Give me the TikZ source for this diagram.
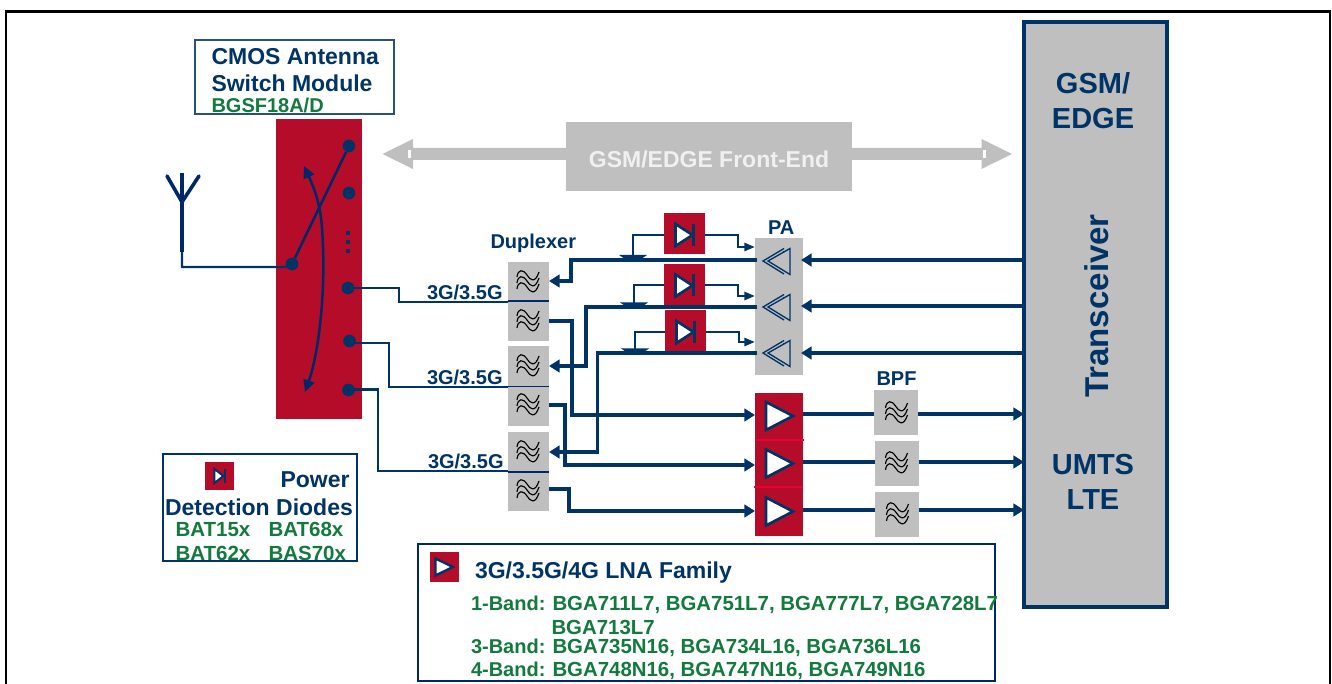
\documentclass[tikz,border=0pt]{standalone}
\usepackage{fontspec}
\setmainfont{Liberation Sans}
\usetikzlibrary{arrows.meta}
\definecolor{navy}{RGB}{0,51,102}
\definecolor{darkblue}{RGB}{0,40,105}
\definecolor{grn}{RGB}{18,122,60}
\definecolor{chipred}{RGB}{181,13,41}
\definecolor{pinkline}{RGB}{232,0,56}
\definecolor{panel}{RGB}{191,191,191}
\def\pxu{0.75pt}
\newcommand{\fpx}[1]{\pgfmathsetmacro\fsz{#1*0.75}\fontsize{\fsz}{\fsz}\bfseries\selectfont}
\newcommand{\bx}[6]{\node[#6,inner sep=0pt,outer sep=0pt,minimum width={(#4-#2)*\pxu},minimum height={(#5-#3)*\pxu}] (#1) at ({(#2+#4)/2},{(#3+#5)/2}) {};}
\tikzset{
  x=0.75pt,y=-0.75pt,
  redbox/.style={fill=chipred},
  graybox/.style={fill=panel},
  framebox/.style={draw=navy,line width=1.5pt,fill=white},
  wire/.style={draw=navy,line width=2.6pt,line join=miter},
  thinwire/.style={draw=navy,line width=2.1pt},
  bigtip/.style={-{Triangle[length=8pt,width=9.5pt]}},
  smalltip/.style={-{Triangle[length=8pt,width=6pt]}},
  tn/.style={inner sep=0pt,outer sep=0pt,anchor=base west,text=navy},
  tg/.style={inner sep=0pt,outer sep=0pt,anchor=base west,text=grn},
  swdot/.style={circle,fill=navy,inner sep=0pt,minimum size=9.5pt},
  filterwave/.pic={
    \foreach \d in {-6,0,6}{
      \draw[black,line width=0.85pt] (-11,\d+1) .. controls (-10,\d-7) and (-5,\d-7) .. (-1,\d-1) .. controls (2,\d+4) and (7,\d+8) .. (11,\d-4);
    }
  },
  paamp/.pic={
    \draw[navy,line width=1pt] (21,-12.5) -- (0,0) -- (21,13);
    \draw[navy,line width=1pt] (27,-12.5) -- (5,-0) -- (27,13.5) -- cycle;
    \draw[navy,line width=1pt] (21,-10) -- (21,-9.5);
  },
  lnaamp/.pic={
    \draw[navy,line width=2pt,fill=white] (0,-14) -- (27,0) -- (0,14) -- cycle;
  },
  diodesym/.pic={
    \draw[navy,line width=2pt,fill=white] (-9,-11) -- (8,0) -- (-9,11) -- cycle;
    \draw[navy,line width=2pt] (9,-11) -- (9,11);
  },
  coupler/.pic={
    \fill[navy] (-14,-1) -- (14,-1) -- (8,3) -- (-8,3) -- cycle;
  },
}
\begin{document}
\begin{tikzpicture}
\useasboundingbox (0,0) rectangle (1332,684);
\draw[black,line width=1.9pt] (6,684) -- (6,11.5) -- (1330,11.5) -- (1330,684);

% Front-end bar
\bx{fe}{566}{122}{852}{191.5}{graybox}
\fill[panel] (382.5,154) -- (413,139) -- (413,148) -- (566,148) -- (566,160) -- (413,160) -- (413,169) -- cycle;
\fill[panel] (1012,154) -- (981.5,139) -- (981.5,148) -- (852,148) -- (852,160) -- (981.5,160) -- (981.5,169) -- cycle;
\fill[white] (408,150) rectangle (411,158);
\fill[white] (983,150) rectangle (986,158);
\node[inner sep=0pt,anchor=base,text=white!94!black,font=\fpx{23}] (fetext) at (709,168) {GSM/EDGE Front-End};

% Transceiver
\bx{tx}{1024}{22}{1167}{607}{fill=panel,draw=navy,line width=2.6pt}
\node[inner sep=0pt,anchor=base,text=navy,font=\fpx{29}] (txa) at (1093,94) {GSM/};
\node[inner sep=0pt,anchor=base,text=navy,font=\fpx{29}] (txb) at (1093,128.5) {EDGE};
\node[inner sep=0pt,rotate=90,text=navy,font=\fpx{33}] (txc) at (1097,306) {Transceiver};
\node[inner sep=0pt,anchor=base,text=navy,font=\fpx{29}] (txd) at (1093,474.5) {UMTS};
\node[inner sep=0pt,anchor=base,text=navy,font=\fpx{29}] (txe) at (1093,509.5) {LTE};

% Switch module
\node[framebox,draw=navy!85!white,inner sep=0pt,minimum width=149pt,minimum height=55.5pt] (cmos) at (294.5,77) {};
\node[tn,font=\fpx{23}] (cmosa) at (211.5,65) {CMOS Antenna};
\node[tn,font=\fpx{23}] (cmosb) at (211.5,92) {Switch Module};
\node[tg,font=\fpx{20}] (cmosc) at (211.5,113) {BGSF18A/D};
\bx{sw}{276}{119}{362}{419}{redbox}
\node[swdot] (ant) at (292,264) {};
\node[swdot] (s1) at (349,146) {};
\node[swdot] (s2) at (349,193) {};
\node[swdot] (s3) at (348,288) {};
\node[swdot] (s4) at (349.5,341) {};
\node[swdot] (s5) at (348.5,390) {};
\foreach \yy in {233,242,251}{\fill[navy] (346,\yy-1.6) rectangle (350,\yy+1.6);}
\draw[darkblue,line width=1.9pt] (ant) -- (s1);
\draw[darkblue,line width=1.9pt,{Triangle[length=9pt,width=8.5pt]}-{Triangle[length=9pt,width=8.5pt]}] (304,166) .. controls (322,205) and (322,225) .. (323,247) .. controls (325,300) and (318,355) .. (305,392);

% Antenna
\coordinate (afork) at (182,202);
\coordinate (abase) at (182,252);
\coordinate (acorner) at (182,267);
\draw[darkblue,line width=2.7pt,line cap=round] (167,176) -- (afork) -- (199,176);
\draw[darkblue,line width=2.7pt] (182,173) -- (abase);
\draw[navy,line width=1.8pt] (abase) -- (acorner) -- (ant.west |- acorner) -- (ant);

% Duplexers
\bx{d1}{508}{262}{549}{341}{graybox}
\bx{d2}{508}{346}{549}{426}{graybox}
\bx{d3}{508}{432}{549}{511}{graybox}
\draw[darkblue,line width=0.8pt] (d1.west |- 0,301) -- (d1.east |- 0,301);
\draw[darkblue,line width=0.8pt] (d2.west |- 0,386.5) -- (d2.east |- 0,386.5);
\draw[darkblue,line width=0.8pt] (d3.west |- 0,472) -- (d3.east |- 0,472);
\foreach \yy in {282,321,366,405,452,491}{\pic at (528,\yy) {filterwave};}
\node[tn,font=\fpx{20}] (duplabel) at (490.5,249) {Duplexer};

% Labels
\node[tn,font=\fpx{20}] (l1) at (427,300) {3G/3.5G};
\node[tn,font=\fpx{20}] (l2) at (427,384) {3G/3.5G};
\node[tn,font=\fpx{20}] (l3) at (428,468.5) {3G/3.5G};

% Switch to duplexer
\draw[thinwire] (s3 |- 0,288) -- (399,288) -- (399,302) -- (d1.west |- 0,302);
\draw[thinwire] (s4 |- 0,343) -- (389,343) -- (389,387) -- (d2.west |- 0,387);
\draw[thinwire] (s5 |- 0,389.5) -- (378,389.5) -- (378,471) -- (d3.west |- 0,471);

% PA
\bx{pa}{755}{238}{803}{375}{graybox}
\node[tn,font=\fpx{20}] (palabel) at (768,235) {PA};
\pic at (763,261) {paamp};
\pic at (763,307) {paamp};
\pic at (763,353) {paamp};

% LNA
\bx{lna1}{755}{393}{803}{440}{redbox}
\bx{lna2}{755}{440}{803}{487}{redbox}
\bx{lna3}{755}{487}{803}{536}{redbox}
\draw[pinkline,line width=0.8pt] (755,440) -- (804,440);
\draw[pinkline,line width=0.8pt] (754,487) -- (803,487);
\pic at (766,416) {lnaamp};
\pic at (766,463.5) {lnaamp};
\pic at (766,511.5) {lnaamp};

% BPF
\bx{b1}{874}{390}{918}{435}{graybox}
\bx{b2}{875}{441}{919}{486}{graybox}
\bx{b3}{875}{492}{919}{537}{graybox}
\pic at (896.5,413) {filterwave};
\pic at (896.5,463) {filterwave};
\pic at (897.5,514) {filterwave};
\node[tn,font=\fpx{20}] (bpflabel) at (876.5,385) {BPF};

% Transceiver to PA
\draw[wire,bigtip] (tx.west |- 0,260) -- (801,260);
\draw[wire,bigtip] (tx.west |- 0,306) -- (801,306);
\draw[wire,bigtip] (tx.west |- 0,353) -- (801,353);

% LNA to BPF to transceiver
\draw[wire] (lna1.east |- 0,414) -- (b1.west |- 0,414);
\draw[wire] (lna2.east |- 0,462) -- (b2.west |- 0,462);
\draw[wire] (lna3.east |- 0,510) -- (b3.west |- 0,510);
\draw[wire,bigtip] (b1.east |- 0,414) -- (tx.west |- 0,414);
\draw[wire,bigtip] (b2.east |- 0,462) -- (tx.west |- 0,462);
\draw[wire,bigtip] (b3.east |- 0,510) -- (tx.west |- 0,510);

% PA to duplexer
\draw[wire,bigtip] (757,260) -- (571,260) -- (571,281) -- (d1.east |- 0,281);
\draw[wire,bigtip] (757,307) -- (586,307) -- (586,366) -- (d2.east |- 0,366);
\draw[wire,bigtip] (757,353) -- (597.5,353) -- (597.5,452) -- (d3.east |- 0,452);

% Duplexer to LNA
\draw[wire,bigtip] (d1.east |- 0,321) -- (572,321) -- (572,415) -- (lna1.west |- 0,415);
\draw[wire,bigtip] (d2.east |- 0,405) -- (565,405) -- (565,465) -- (lna2.west |- 0,465);
\draw[wire,bigtip] (d3.east |- 0,489) -- (569,489) -- (569,511) -- (lna3.west |- 0,511);

% Diodes
\bx{pd1}{664}{213}{705}{254}{redbox}
\bx{pd2}{664}{264}{705}{305}{redbox}
\bx{pd3}{665}{310}{706}{351}{redbox}
\pic at (684.5,235) {diodesym};
\pic at (684.5,285.5) {diodesym};
\pic at (685.5,332) {diodesym};
\pic at (633,256) {coupler};
\pic at (634,303.5) {coupler};
\pic at (635,349.5) {coupler};
\draw[thinwire] (633,256) -- (633,235) -- (pd1.west |- 0,235);
\draw[thinwire] (634,304) -- (634,285) -- (pd2.west |- 0,285);
\draw[thinwire] (635,350) -- (635,332) -- (pd3.west |- 0,332);
\draw[thinwire,smalltip] (pd1.east |- 0,235) -- (738,235) -- (738,247) -- (pa.west |- 0,247);
\draw[thinwire,smalltip] (pd2.east |- 0,285) -- (738,285) -- (738,296) -- (pa.west |- 0,296);
\draw[thinwire,smalltip] (pd3.east |- 0,332) -- (739,332) -- (739,342) -- (pa.west |- 0,342);

% Power detection box
\node[framebox,inner sep=0pt,minimum width=145.5pt,minimum height=80pt] (pdbox) at (260,507.5) {};
\bx{pdicon}{205}{462}{234}{490}{redbox}
\begin{scope}[shift={(219.5,476)},scale=0.65]
\draw[navy,line width=1.5pt,fill=white] (-8,-11) -- (6,0) -- (-8,11) -- cycle;
\draw[navy,line width=1.5pt] (8,-11) -- (8,11);
\end{scope}
\node[tn,font=\fpx{23}] (pow) at (280.5,487) {Power};
\node[tn,font=\fpx{23}] (det) at (165,515) {Detection Diodes};
\node[tg,font=\fpx{20.5}] (bat1) at (175.5,536) {BAT15x};
\node[tg,font=\fpx{20.5}] (bat2) at (268.5,536) {BAT68x};
\node[tg,font=\fpx{20.5}] (bat3) at (175.5,560) {BAT62x};
\node[tg,font=\fpx{20.5}] (bat4) at (268.5,560) {BAS70x};

% LNA family box
\node[framebox,draw=darkblue,inner sep=0pt,minimum width=433pt,minimum height=102.5pt] (fam) at (706.5,612.5) {};
\bx{famicon}{430}{552}{459}{582}{redbox}
\draw[navy,line width=1.8pt,fill=white] (435.5,558.5) -- (453,567) -- (435.5,575.5) -- cycle;
\node[tn,font=\fpx{23}] (famt) at (475,578) {3G/3.5G/4G LNA Family};
\node[tg,font=\fpx{20}] (b1a) at (471,610) {1-Band:};
\node[tg,font=\fpx{20.4}] (b1b) at (552.5,610) {BGA711L7, BGA751L7, BGA777L7, BGA728L7};
\node[tg,font=\fpx{20.4}] (b1c) at (551.5,634) {BGA713L7};
\node[tg,font=\fpx{20}] (b3a) at (471,653) {3-Band:};
\node[tg,font=\fpx{20.4}] (b3b) at (552.5,653) {BGA735N16, BGA734L16, BGA736L16};
\node[tg,font=\fpx{20}] (b4a) at (471,676) {4-Band:};
\node[tg,font=\fpx{20.4}] (b4b) at (552.5,676) {BGA748N16, BGA747N16, BGA749N16};
\end{tikzpicture}
\end{document}
